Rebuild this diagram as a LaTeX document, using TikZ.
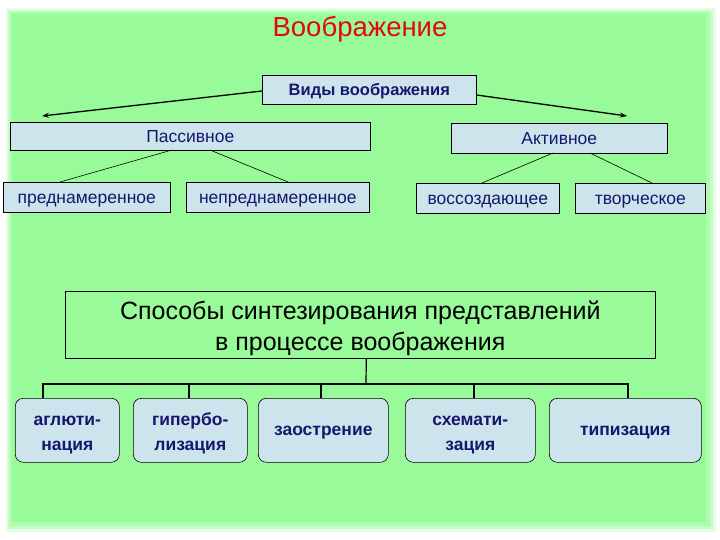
\documentclass[tikz,border=0pt]{standalone}
\usepackage{fontspec}
\setmainfont{Liberation Sans}
\usetikzlibrary{calc,arrows.meta}
\definecolor{bggreen}{RGB}{152,250,152}
\definecolor{boxblue}{RGB}{206,228,236}
\definecolor{navy}{RGB}{22,22,110}
\definecolor{titlered}{RGB}{224,10,10}
\newcommand{\topstrut}{\rule{0pt}{23pt}}
\tikzset{
  flatbox/.style={draw=black, line width=0.6pt, fill=boxblue, text=navy, anchor=north west, inner sep=0pt, text height=13pt, text depth=0pt, font=\fontsize{17.5}{20}\selectfont},
  roundbox/.style={draw=black, line width=0.6pt, fill=boxblue, text=navy, anchor=north west, inner sep=0pt, rounded corners=8pt, minimum height=64pt, align=center, font=\bfseries\fontsize{17.5}{25}\selectfont},
  thin/.style={line width=0.6pt},
  brk/.style={line width=1.6pt},
}
\begin{document}
\begin{tikzpicture}[x=1pt,y=-1pt]
\useasboundingbox (0,0) rectangle (720,540);
\fill[white] (0,0) rectangle (720,540);
\fill[bggreen!25] (6,8) rectangle (716,532);
\fill[bggreen!55] (8,10) rectangle (713,529);
\fill[bggreen!80] (10,12) rectangle (710,526);
\fill[bggreen] (12,14) rectangle (706,522);

\node[text=titlered, font=\fontsize{27.5}{30}\selectfont] (title) at (360,29) {Воображение};

\node[flatbox, minimum width=214pt, minimum height=29pt, text height=12pt, font=\bfseries\fontsize{16.5}{20}\selectfont] (vid) at (262,75) {Виды воображения};

\node[flatbox, minimum width=360pt, minimum height=28pt] (pas) at (10,122) {Пассивное};
\node[flatbox, minimum width=216pt, minimum height=30pt] (akt) at (451,123) {Активное};

\node[flatbox, minimum width=167pt, minimum height=30pt] (pre) at (3,182) {преднамеренное};
\node[flatbox, minimum width=183pt, minimum height=30pt] (nepre) at (186,182) {непреднамеренное};
\node[flatbox, minimum width=143pt, minimum height=30pt] (voss) at (416,183) {воссоздающее};
\node[flatbox, minimum width=130pt, minimum height=30pt] (tvor) at (575,183) {творческое};

\draw[line width=1.3pt, -{Stealth[length=7pt,width=5pt]}] (vid.west |- 0,91) -- (42,116);
\draw[line width=1.3pt, -{Stealth[length=7pt,width=5pt]}] (vid.east |- 0,95) -- (627,116);
\coordinate (p1) at (172,150); \coordinate (p2) at (210,150);
\coordinate (a1) at (553,153); \coordinate (a2) at (590,153);
\draw[thin] (p1) -- (pre.north -| 60,0);
\draw[thin] (p2) -- (nepre.north -| 288,0);
\draw[thin] (a1) -- (voss.north -| 482,0);
\draw[thin] (a2) -- (tvor.north -| 652,0);

\node[draw=black, line width=0.6pt, fill=bggreen, anchor=north west, minimum width=590pt, minimum height=67pt, inner sep=0pt, align=center, font=\fontsize{25}{31}\selectfont] (main) at (65,291) {\rule{0pt}{26.5pt}Способы синтезирования представлений\\в процессе воображения};

\node[roundbox, minimum width=104pt] (b1) at (15,398) {\topstrut аглюти-\\\strut нация};
\node[roundbox, minimum width=114pt] (b2) at (133,398) {\topstrut гипербо-\\\strut лизация};
\node[roundbox, minimum width=130pt] (b3) at (258,398) {\strut заострение};
\node[roundbox, minimum width=130pt] (b4) at (405,398) {\topstrut схемати-\\\strut зация};
\node[roundbox, minimum width=152pt] (b5) at (549,398) {\strut типизация};

\coordinate (stem) at (366,383);
\coordinate (hl) at (43,384);
\coordinate (hr) at (628,384);
\draw[line width=1.2pt] ($(main.south)+(6,0)$) -- (stem);
\draw[brk] (b1.north -| hl) -- (hl) -- (hr) -- (b5.north -| hr);
\draw[line width=2.6pt] (b2.north -| 189,0) -- (189,384);
\draw[line width=2.6pt] (b3.north -| 321,0) -- (321,384);
\draw[line width=2.6pt] (b4.north -| 474,0) -- (474,384);
\end{tikzpicture}
\end{document}
